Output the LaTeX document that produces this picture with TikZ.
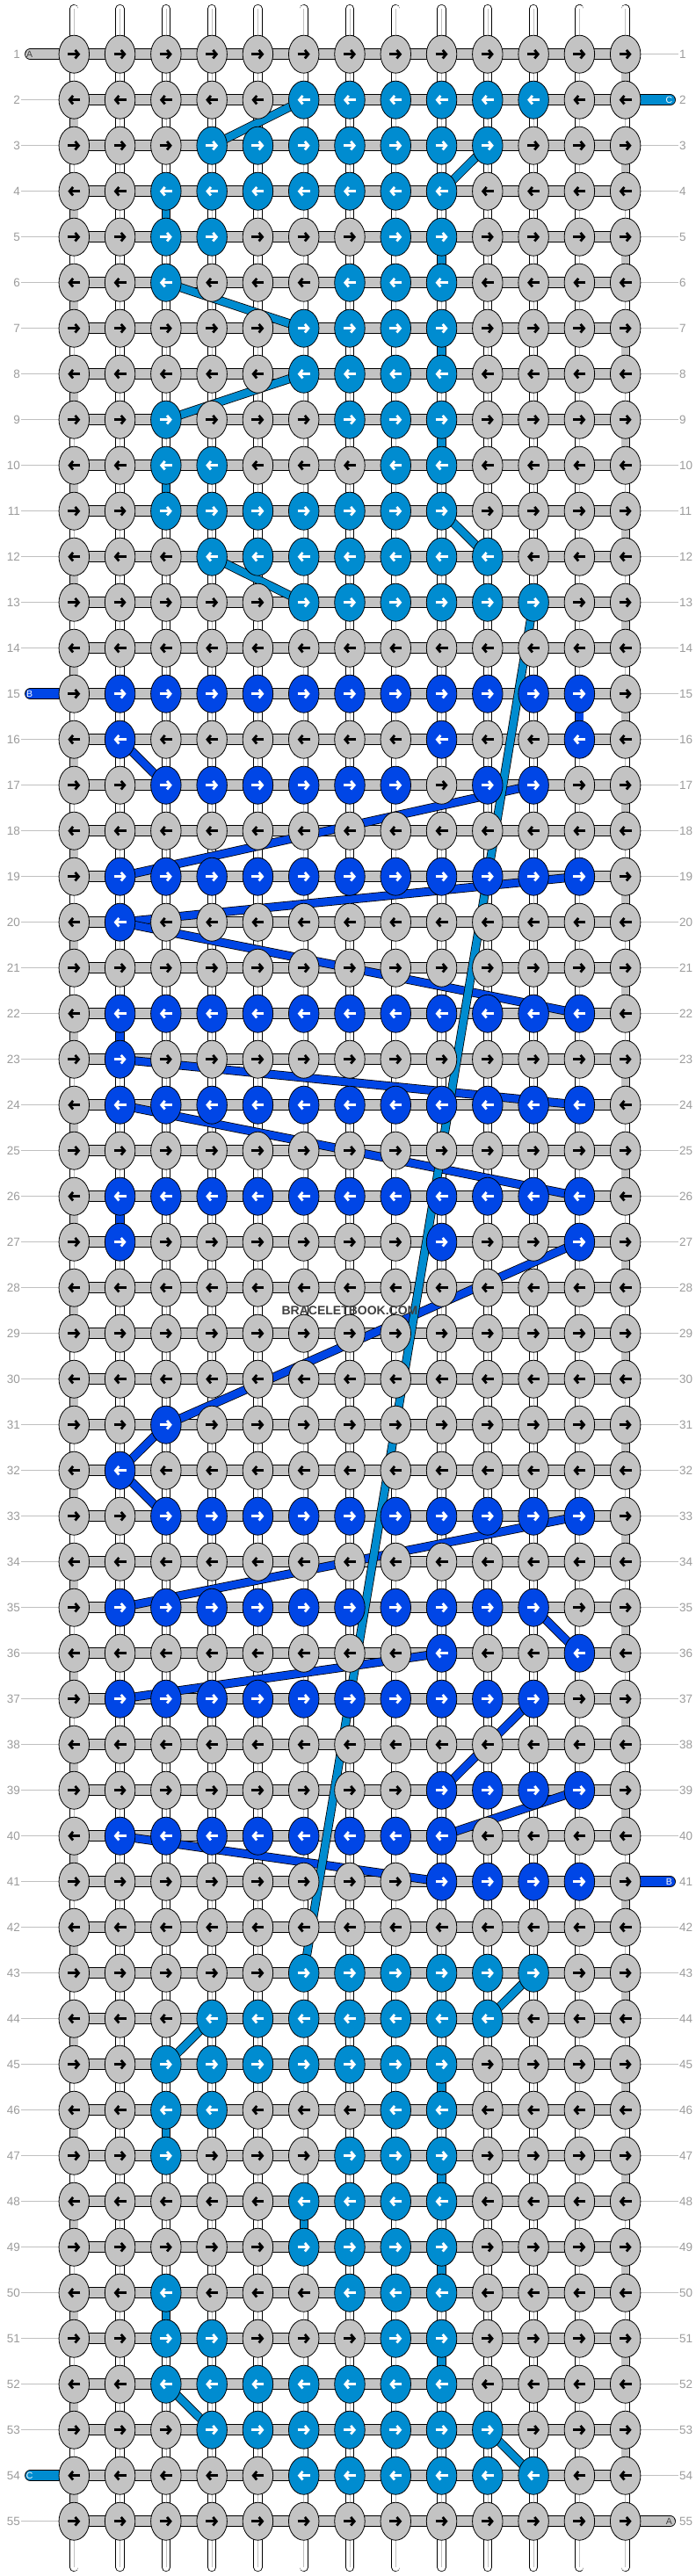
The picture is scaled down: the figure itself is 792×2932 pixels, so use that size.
\documentclass[tikz,border=0pt]{standalone}
\usepackage{fontspec}
\setmainfont{Liberation Sans}
\usetikzlibrary{arrows.meta,shapes.geometric}

\definecolor{knotgray}{HTML}{C3C3C3}
\definecolor{lblue}{HTML}{008CD0}
\definecolor{dblue}{HTML}{0046E6}
\definecolor{numgray}{HTML}{9C9C9C}
\definecolor{guidegray}{HTML}{C0C0C0}

\pgfdeclarelayer{bg}
\pgfdeclarelayer{strings}
\pgfdeclarelayer{bands}
\pgfdeclarelayer{threads}
\pgfsetlayers{bg,strings,bands,threads,main}

\begin{document}
\begin{tikzpicture}[x=1pt,y=-1pt,
    knot/.style={ellipse,draw=black,line width=0.8pt,minimum width=34.5pt,minimum height=43pt,inner sep=0pt},
    arrowline/.style={line width=2.8pt,-{Straight Barb[length=4pt,width=9.5pt]}},
    vstring/.style={draw=black,line width=0.8pt,double=white,double distance=8.6pt,line cap=round},
    edgeturn/.style={draw=black,line width=0.8pt,double=knotgray,double distance=8.6pt},
    band/.style={draw=black,line width=0.8pt,double=#1,double distance=11.4pt,line cap=round},
    band/.default=knotgray,
    thread/.style={draw=black,line width=0.8pt,double=#1,double distance=8.4pt},
    rownum/.style={text=numgray,font=\fontsize{13.5}{14}\selectfont,inner sep=1pt},
    guide/.style={draw=guidegray,line width=1pt},
    endlabel/.style={font=\fontsize{10.5}{11}\selectfont,inner sep=0pt}]

\useasboundingbox (0,0) rectangle (792,2932);
\begin{pgfonlayer}{bg}
\fill[white] (0,0) rectangle (792,2932);
\end{pgfonlayer}

% coloured knots
\foreach \r/\cs in {2/{6,...,11},3/{4,...,10},4/{3,...,9},5/{3,4,8,9},6/{3,7,8,9},
    7/{6,...,9},8/{6,...,9},9/{3,7,8,9},10/{3,4,8,9},11/{3,...,9},12/{4,...,10},
    13/{6,...,11},43/{6,...,11},44/{4,...,10},45/{3,...,9},46/{3,4,8,9},47/{3,7,8,9},
    48/{6,...,9},49/{6,...,9},50/{3,7,8,9},51/{3,4,8,9},52/{3,...,9},53/{4,...,10},
    54/{6,...,11}}{
  \foreach \c in \cs {\expandafter\xdef\csname kc-\r-\c\endcsname{lblue}}
}
\foreach \r/\cs in {15/{2,...,12},16/{2,9,12},17/{3,4,5,6,7,8,10,11},19/{2,...,12},
    20/{2},22/{2,...,12},23/{2},24/{2,...,12},26/{2,...,12},27/{2,9,12},31/{3},32/{2},
    33/{3,...,12},35/{2,...,11},36/{9,12},37/{2,...,11},39/{9,...,12},40/{2,...,9},
    41/{9,...,12}}{
  \foreach \c in \cs {\expandafter\xdef\csname kc-\r-\c\endcsname{dblue}}
}

\foreach \r in {1,...,55}{
  \ifodd\r \def\adir{1}\else\def\adir{-1}\fi
  \foreach \c in {1,...,13}{
    \ifcsname kc-\r-\c\endcsname
      \edef\kcol{\csname kc-\r-\c\endcsname}\def\acol{white}%
    \else
      \def\kcol{knotgray}\def\acol{black}%
    \fi
    \node[knot,fill=\kcol] (k-\r-\c) at ({84.3+52.28*(\c-1)},{61.7+52*(\r-1)}) {};
    \draw[arrowline,draw=\acol] ([xshift=-7*\adir]k-\r-\c.center) -- ([xshift=7*\adir]k-\r-\c.center);
  }
  \node[rownum,anchor=east] (ln-\r) at ([xshift=-60.3]k-\r-1.center) {\r};
  \node[rownum,anchor=west] (rn-\r) at ([xshift=60.3]k-\r-13.center) {\r};
}

\node[font=\bfseries\fontsize{14}{14}\selectfont,text=black!75] (brand) at (398,1492) {BRACELETBOOK.COM};

\begin{pgfonlayer}{strings}
\foreach \c in {1,...,13}{
  \coordinate (top-\c) at (k-1-\c |- 0,10);
  \coordinate (bot-\c) at (k-55-\c |- 0,2922);
  \draw[vstring] (top-\c) -- (bot-\c);
  \draw[guidegray,line width=0.6pt] (top-\c) -- (bot-\c);
}
\end{pgfonlayer}

\begin{pgfonlayer}{bands}
\foreach \r in {1,...,55}{
  \draw[band] (k-\r-1.center) -- (k-\r-13.center);
  \pgfmathtruncatemacro\noleft{(\r==1)||(\r==15)||(\r==54)}
  \pgfmathtruncatemacro\noright{(\r==2)||(\r==41)||(\r==55)}
  \ifnum\noleft=0 \draw[guide] (ln-\r.east) -- (k-\r-1.west);\fi
  \ifnum\noright=0 \draw[guide] (k-\r-13.east) -- (rn-\r.west);\fi
}
\foreach \r in {1,...,54}{
  \pgfmathtruncatemacro\rn{\r+1}
  \ifodd\r \def\tc{13}\else\def\tc{1}\fi
  \draw[edgeturn] (k-\r-\tc.center) -- (k-\rn-\tc.center);
}
\end{pgfonlayer}

% loose ends
\coordinate (pA-in) at ([xshift=-49.7]k-1-1.center);
\coordinate (pC-out) at ([xshift=50.8]k-2-13.center);
\coordinate (pB-in) at ([xshift=-49.7]k-15-1.center);
\coordinate (pB-out) at ([xshift=50.8]k-41-13.center);
\coordinate (pC-in) at ([xshift=-49.7]k-54-1.center);
\coordinate (pA-out) at ([xshift=50.8]k-55-13.center);
\begin{pgfonlayer}{threads}
\draw[band] (pA-in) -- (k-1-1.center);
\draw[band=lblue] (k-2-13.center) -- (pC-out);
\draw[band=dblue] (pB-in) -- (k-15-1.center);
\draw[band=dblue] (k-41-13.center) -- (pB-out);
\draw[band=lblue] (pC-in) -- (k-54-1.center);
\draw[band] (k-55-13.center) -- (pA-out);

\foreach \a/\b/\p/\q in {15/12/16/12,16/2/17/3,17/11/19/2,19/12/20/2,20/2/22/12,
    22/2/23/2,23/2/24/12,24/2/26/12,26/2/27/2,27/12/31/3,31/3/32/2,32/2/33/3,
    33/12/35/2,35/11/36/12,36/9/37/2,37/11/39/9,39/12/40/9,40/2/41/9}
  \draw[thread=dblue] (k-\a-\b.center) -- (k-\p-\q.center);
\foreach \a/\b/\p/\q in {2/6/3/4,3/10/4/9,4/3/5/3,5/9/6/9,6/3/7/6,7/9/8/9,8/6/9/3,
    9/9/10/9,10/3/11/3,11/9/12/10,12/4/13/6,13/11/43/6,43/11/44/10,44/4/45/3,
    45/9/46/9,46/3/47/3,47/9/48/9,48/6/49/6,49/9/50/9,50/3/51/3,51/9/52/9,
    52/3/53/4,53/10/54/11}
  \draw[thread=lblue] (k-\a-\b.center) -- (k-\p-\q.center);
\end{pgfonlayer}

\node[endlabel,text=black!75] (lA-in) at ([xshift=-1]pA-in) {A};
\node[endlabel,text=white] (lC-out) at ([xshift=-1]pC-out) {C};
\node[endlabel,text=white] (lB-in) at ([xshift=-1]pB-in) {B};
\node[endlabel,text=white] (lB-out) at ([xshift=-1]pB-out) {B};
\node[endlabel,text=white] (lC-in) at ([xshift=-1]pC-in) {C};
\node[endlabel,text=black!75] (lA-out) at ([xshift=-1]pA-out) {A};
\end{tikzpicture}
\end{document}
